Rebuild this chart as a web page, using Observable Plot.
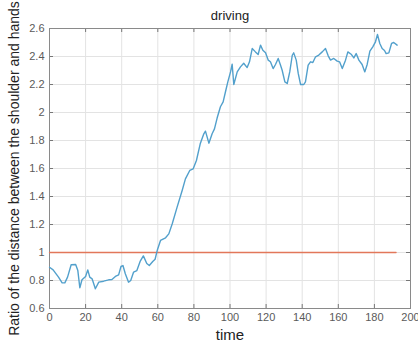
<!DOCTYPE html>
<html><head><meta charset="utf-8">
<script src="https://cdn.jsdelivr.net/npm/d3@7"></script>
<script src="https://cdn.jsdelivr.net/npm/@observablehq/plot@0.6"></script>
<style>body{margin:0;background:#fff}</style>
</head><body><div id="chart"></div>
<script>
const time = [0,2,5,7,8.5,10,12,14.5,15.7,16.8,18,20,21.2,22.3,23.6,25.4,27.3,30,32.8,34.6,36.5,38.3,39.6,40.7,42,43.8,45,46.6,48.4,50.2,52,53.9,55.3,57.2,58.5,59.8,61.5,64.3,66.1,68,70.7,73.5,75.3,77.7,79.6,81.4,83.5,85.5,86.4,88.3,90.1,91.4,92.9,94.7,96.2,97.5,98.8,100.3,101.2,102.1,104,105.8,107.6,109.5,110.8,112.3,114.1,115.6,116.9,118.2,119.7,121.2,122.4,123.9,125.2,126.7,128,128.9,130.4,131.7,133.1,134.5,135.3,136.7,137.8,139.1,140.9,141.8,143.3,144.6,145.9,147.4,149.2,151.1,152.9,154.4,155.7,157.5,159.4,160.7,162.2,164,165.3,167.3,168.6,169.9,171.4,173.2,174.7,176,177.5,179.1,180.6,181.7,183,184.3,185.6,186.5,188,189.5,190.7,192.6];
const ratio = [0.895,0.876,0.824,0.783,0.783,0.824,0.912,0.914,0.871,0.748,0.805,0.829,0.876,0.824,0.812,0.741,0.788,0.795,0.805,0.807,0.829,0.840,0.900,0.907,0.848,0.788,0.800,0.860,0.871,0.936,0.976,0.922,0.907,0.936,0.952,1.020,1.086,1.105,1.133,1.205,1.324,1.443,1.526,1.586,1.598,1.657,1.776,1.848,1.867,1.781,1.848,1.883,1.962,2.041,2.076,2.148,2.219,2.290,2.345,2.200,2.290,2.326,2.352,2.321,2.362,2.457,2.433,2.414,2.481,2.445,2.426,2.374,2.362,2.314,2.343,2.386,2.338,2.302,2.219,2.207,2.290,2.409,2.426,2.374,2.279,2.200,2.200,2.219,2.338,2.362,2.357,2.398,2.410,2.433,2.457,2.405,2.374,2.386,2.367,2.362,2.314,2.374,2.433,2.414,2.390,2.421,2.374,2.343,2.290,2.343,2.438,2.469,2.505,2.557,2.493,2.457,2.443,2.421,2.426,2.493,2.500,2.481];
const thresholdTime = [0, 192];
const thresholdValue = [1, 1];
const xTicks = [0,20,40,60,80,100,120,140,160,180,200];
const yTicks = [0.6,0.8,1.0,1.2,1.4,1.6,1.8,2.0,2.2,2.4,2.6];
const titleText = "driving";
const xLabel = "time";
const yLabel = "Ratio of the distance between the shoulder and hands";

const W = 418, H = 344, mL = 49, mR = 8, mT = 28, mB = 36;
const pw = W - mL - mR, ph = H - mT - mB;
const series = time.map((t, i) => ({t, v: ratio[i]}));
const thr = thresholdTime.map((t, i) => ({t, v: thresholdValue[i]}));
const fmt = d => String(+d.toFixed(1));
const font = "Liberation Sans, Arial, sans-serif";

const chart = Plot.plot({
  width: W, height: H,
  marginLeft: mL, marginRight: mR, marginTop: mT, marginBottom: mB,
  style: {fontFamily: font, background: "#fff"},
  x: {domain: [0, 200], ticks: xTicks},
  y: {domain: [0.6, 2.6], ticks: yTicks},
  marks: [
    Plot.gridX(xTicks, {stroke: "#e3e3e3", strokeOpacity: 1}),
    Plot.gridY(yTicks, {stroke: "#e3e3e3", strokeOpacity: 1}),
    Plot.tickX(xTicks, {x: d => d, insetTop: ph - 4, stroke: "#777"}),
    Plot.tickX(xTicks, {x: d => d, insetBottom: ph - 4, stroke: "#777"}),
    Plot.tickY(yTicks, {y: d => d, insetRight: pw - 4, stroke: "#777"}),
    Plot.tickY(yTicks, {y: d => d, insetLeft: pw - 4, stroke: "#777"}),
    Plot.frame({stroke: "#8a8a8a"}),
    Plot.axisX(xTicks, {tickSize: 0, tickPadding: 5, tickFormat: d => String(d), fontSize: 11, fill: "#5a5a5a", label: null}),
    Plot.axisY(yTicks, {tickSize: 0, tickPadding: 5, tickFormat: fmt, fontSize: 11, fill: "#5a5a5a", label: null}),
    Plot.line(thr, {x: "t", y: "v", stroke: "#e2775a", strokeWidth: 1.3}),
    Plot.line(series, {x: "t", y: "v", stroke: "#52a0cc", strokeWidth: 1.4}),
    Plot.text([titleText], {frameAnchor: "top", dy: -13, lineAnchor: "middle", textAnchor: "middle", fontSize: 13, fill: "#222"}),
    Plot.text([xLabel], {frameAnchor: "bottom", dy: 27, lineAnchor: "middle", textAnchor: "middle", fontSize: 15, fill: "#222"}),
    Plot.text([yLabel], {frameAnchor: "left", dx: -35, rotate: -90, lineAnchor: "middle", textAnchor: "middle", fontSize: 14, fill: "#222"})
  ]
});
document.getElementById("chart").appendChild(chart);
</script>
</body></html>
